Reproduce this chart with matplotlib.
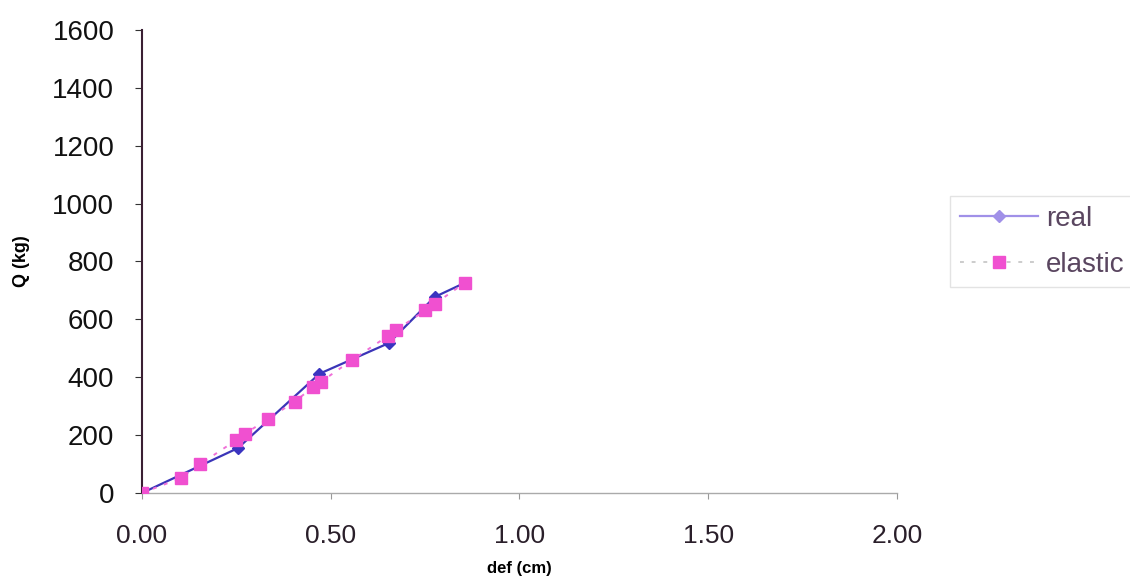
import numpy as np
import matplotlib
matplotlib.use('Agg')
import matplotlib.pyplot as plt

plt.rcParams['font.family'] = ['Liberation Sans', 'DejaVu Sans']

# real curve (diamonds)
real_x = [0.0, 0.254, 0.47, 0.654, 0.775, 0.855]
real_y = [0, 155, 412, 518, 677, 726]

# elastic curve (squares)
el_x = [0.0, 0.102, 0.153, 0.25, 0.272, 0.334, 0.405, 0.453, 0.475, 0.555,
        0.652, 0.674, 0.751, 0.775, 0.855]
el_y = [0, 51, 99, 183, 204, 256, 316, 366, 385, 458, 543, 564, 631, 653, 726]

xticks = [0.0, 0.5, 1.0, 1.5, 2.0]
yticks = [0, 200, 400, 600, 800, 1000, 1200, 1400, 1600]

fig = plt.figure(figsize=(11.3, 5.81), dpi=100)
ax = fig.add_axes([0.1257, 0.1515, 0.668, 0.797])

ax.plot(real_x, real_y, color='#3b35b8', lw=1.6, marker='D', ms=6,
        mfc='#3a34c0', mec='#3a34c0', label='real', zorder=3)
ax.plot(el_x, el_y, color='#f070d8', lw=1.4, ls=(0, (2, 4)), marker='s', ms=8,
        mfc='#f050d0', mec='#f050d0', label='elastic', zorder=4)

ax.set_xlim(0, 2.0)
ax.set_ylim(0, 1600)
ax.set_xticks(xticks)
ax.set_xticklabels(['%.2f' % v for v in xticks], fontsize=19, color='#2a1f2a')
ax.set_yticks(yticks)
ax.set_yticklabels([str(v) for v in yticks], fontsize=20, color='#111111')
ax.tick_params(axis='x', length=4, color='#999999', pad=18)
ax.tick_params(axis='y', length=5, color='#333333', pad=15)

for s in ['top', 'right']:
    ax.spines[s].set_visible(False)
ax.spines['left'].set_color('#3a1f33')
ax.spines['left'].set_linewidth(1.5)
ax.spines['bottom'].set_color('#aaaaaa')
ax.spines['bottom'].set_linewidth(1.0)

ax.set_xlabel('def (cm)', fontsize=12, fontweight='bold', labelpad=10)
ax.set_ylabel('Q (kg)', fontsize=13, fontweight='bold', labelpad=16)

leg = fig.legend(loc='upper left', bbox_to_anchor=(0.841, 0.662), fontsize=20,
                 frameon=True, fancybox=False, handlelength=2.8,
                 handletextpad=0.3, borderpad=0.35, labelspacing=0.7,
                 borderaxespad=0)
leg.get_frame().set_edgecolor('#dddddd')
for t in leg.get_texts():
    t.set_color('#5a4660')
leg.get_lines()[0].set_color('#a090e8')
leg.get_lines()[0].set_markerfacecolor('#a090e8')
leg.get_lines()[0].set_markeredgecolor('#a090e8')
leg.get_lines()[1].set_color('#cccccc')

fig.savefig('out.png', dpi=100)
